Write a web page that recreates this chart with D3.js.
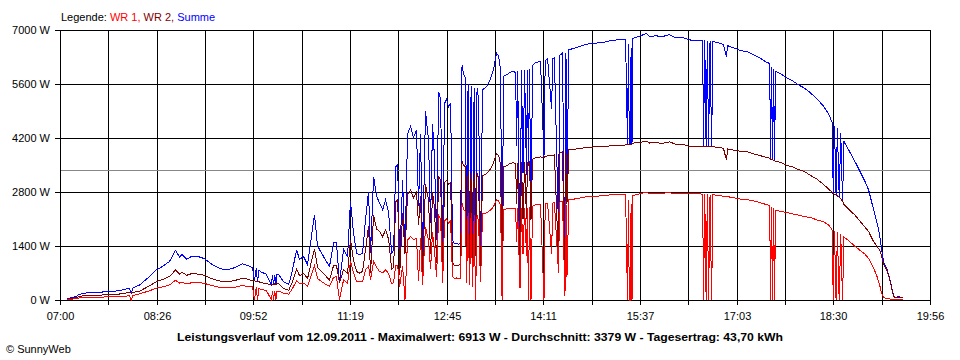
<!DOCTYPE html>
<html><head><meta charset="utf-8">
<script src="https://cdn.jsdelivr.net/npm/d3@7"></script>
<style>
html,body{margin:0;padding:0;background:#fff;}
svg{display:block;font-family:"Liberation Sans",Arial,sans-serif;}
</style></head><body>
<svg id="chart" width="960" height="360"></svg>
<script>
// minutes after 07:00
const times = [
6,14.5,17.4,24.5,35,43,53,62,63.5,65,
71,80,86,91.5,97.7,103,106.6,109,113,118,
124.4,129,133.5,138.7,144,150,156.5,162.8,167,171.7,
173.5,175,176.2,177.5,179.7,184,188.6,189.5,190.5,191.5,
192.5,193.5,194.9,199.4,204,207.4,211,213.7,217.2,220.8,
224.3,227,229.7,233.2,236.8,240.4,244,246.6,249.3,252.9,
256.5,259.1,261.8,264.5,267.1,269.9,272.5,275.2,277,279.7,
282.4,285,287.8,290.4,293.1,295.8,297.6,299.4,301.2,303,
305.6,307.7,310,312.7,315.3,318,319.8,321.6,323.4,326,
328.7,330.5,332.3,334,335.9,337.7,339.5,341.3,343,344.8,
346.6,348.4,350.1,351.9,353.7,355.5,357.3,358.6,359.9,361.7,
362.6,364,365.3,366.7,368,369.4,370.7,372,373.3,375.1,
376.9,380.4,384,386.7,389.4,391.2,393,394.3,395.6,398.3,
401,403.7,406.4,407.3,408.2,410.3,411.6,413,414.4,416.1,
416.9,417.8,418.8,420.1,421.5,423.3,428.6,431.7,432.8,434.9,
438.5,439.5,441,444.7,445.6,448.2,450.4,451.3,452.2,453.9,
459.3,463.4,469.6,476.7,483.9,491.9,499,504.5,505.3,506.2,
507,507.8,508.6,509.4,510.2,511,512.4,517.8,522.9,525.8,
531.2,537.4,543.7,549,555.3,560.7,566,571.3,573.2,574,
575.1,576.3,577.4,578.5,579.8,581.2,582.4,587.4,591.8,594.5,
595.4,597.2,602.6,607.9,613.3,618.6,624,629.3,633,633.8,
634.7,635.6,636.5,637.4,638.2,642.7,648,653.4,658.7,664.1,
669.4,674.8,680.1,685.5,689.1,689.6,690.8,692.2,693.4,695,
696.4,698,699.2,700.7,704.2,708.7,713.1,717.6,721.2,724.8,
728.3,731,732.8,734.6,737.3,739.1,740.9,742.7,744.5,749,
751.7
];
// WR 1 (W)
const wr1 = [
10,35,55,70,75,80,85,110,0,115,
160,240,310,340,390,510,440,460,420,450,
450,430,390,350,320,310,335,375,355,340,
0,330,0,300,270,250,0,240,0,235,
0,230,230,175,150,300,500,420,440,360,
650,880,560,480,410,350,590,600,0,520,
440,1000,700,480,470,480,780,880,520,1000,
850,740,700,780,690,420,450,900,900,350,
870,0,1550,1650,1560,1600,500,1600,400,1900,
1550,800,1750,1300,600,2200,2100,450,2050,2100,
2000,2050,600,560,570,550,560,2500,2350,2300,
450,2250,400,2250,350,2200,0,2200,2050,480,
2230,2260,2330,2420,2600,2580,2440,0,2350,2360,
2360,2370,2360,1500,2380,300,2380,1200,2390,1150,
2390,0,2400,0,2430,2460,2480,0,2490,2510,
1200,2515,2520,700,2540,2560,100,2560,600,2600,
2620,2640,2680,2690,2700,2730,2740,2740,1400,0,
2600,0,0,2500,0,2720,2720,2760,2790,2760,
2770,2770,2780,2760,2770,2760,2750,2750,2740,0,
2740,0,2740,0,2730,0,2730,2710,2690,2690,
2680,2670,2640,2610,2600,2570,2530,2480,2450,0,
2400,0,2380,0,2330,2300,2270,2230,2200,2160,
2140,2080,2040,1950,1800,0,1780,0,1750,0,
1700,0,1640,1600,1520,1400,1300,1200,1080,880,
650,400,180,60,40,30,25,20,20,20,
15
];
// WR 2 (W)
const wr2 = [
15,60,95,120,125,140,155,195,180,195,
230,370,475,530,610,775,675,720,640,690,
665,640,575,520,485,475,510,565,545,495,
495,490,470,470,450,420,400,410,400,420,
400,430,430,300,250,480,800,630,690,555,
1000,1330,840,740,630,520,890,900,440,790,
690,1560,1040,740,700,740,1300,1930,700,2200,
1840,1780,1640,1820,1570,800,850,2550,2600,650,
2250,1200,2750,2850,2650,2800,1950,2700,730,3000,
2600,1200,2800,2400,950,3200,3100,770,3050,3100,
3000,3050,960,900,900,900,920,3600,3500,3450,
750,3350,800,3300,700,3300,1150,3300,3150,780,
3220,3270,3400,3560,3800,3750,3520,530,3450,3480,
3530,3560,3540,2480,3560,660,3570,2090,3580,2100,
3580,3500,3600,2080,3650,3680,3710,3700,3720,3740,
3740,3750,3760,1040,3800,3840,250,3850,2500,3890,
3910,3930,3950,3970,3970,4000,4010,4020,4020,4030,
4030,4030,4030,4040,4040,4060,4080,4090,4120,4070,
4080,4060,4100,4040,4040,3990,3970,3990,3990,3990,
3990,3990,3980,3980,3980,3970,3970,3960,3930,3620,
3920,3900,3880,3850,3840,3790,3750,3700,3680,3650,
3640,3630,3620,3610,3600,3570,3490,3450,3380,3330,
3230,3140,3020,2880,2780,2760,2740,2720,2700,2660,
2620,2560,2480,2430,2330,2210,2060,1900,1780,1560,
1410,1300,1150,920,790,620,440,170,55,60,
55
];
const yTicks = [0,1400,2800,4200,5600,7000];
const xTickLabels = ["07:00","08:26","09:52","11:19","12:45","14:11","15:37","17:03","18:30","19:56"];
const dayMinutes = 776;      // 07:00 -> 19:56
const xDivisions = 18;
const averageW = 3379;
const legendLabels = ["WR 1,","WR 2,","Summe"];
const titleText = "Leistungsverlauf vom 12.09.2011 - Maximalwert: 6913 W - Durchschnitt: 3379 W - Tagesertrag: 43,70 kWh";
const creditText = "\u00A9 SunnyWeb";

const colWR1 = "#ff0000", colWR2 = "#800000", colSum = "#0000ff";
const n = Math.min(times.length, wr1.length, wr2.length);
const rows = d3.range(n).map(i => ({t: times[i], a: wr1[i], b: wr2[i], s: wr1[i] + wr2[i]}));

const svg = d3.select("#chart");
svg.append("rect").attr("width", 960).attr("height", 360).attr("fill", "#fff");

const x = d3.scaleLinear().domain([0, dayMinutes]).range([60, 930]);
const xr = x.copy().interpolate(d3.interpolateRound);
const y = d3.scaleLinear().domain([0, 7000]).range([300, 30]);
const xTickVals = d3.range(xDivisions + 1).map(i => i * dayMinutes / xDivisions);

// grid
const gx = svg.append("g").attr("transform", "translate(0,30)")
  .call(d3.axisBottom(xr).tickValues(xTickVals).tickSize(270).tickFormat(""));
const gy = svg.append("g").attr("transform", "translate(60,0)")
  .call(d3.axisLeft(y).tickValues(yTicks).tickSize(-871).tickFormat(""));
[gx, gy].forEach(g => {
  g.select(".domain").remove();
  g.selectAll("line").attr("stroke", "#000").attr("shape-rendering", "crispEdges");
});

// average line
const ay = Math.round(y(averageW)) + 0.5;
svg.append("line").attr("x1", 61).attr("x2", 930).attr("y1", ay).attr("y2", ay)
  .attr("stroke", "#888").attr("shape-rendering", "crispEdges");

// series
const mk = key => d3.line().x(d => x(d.t)).y(d => y(d[key]));
[["s", colSum], ["b", colWR2], ["a", colWR1]].forEach(([k, c]) => {
  svg.append("path").datum(rows).attr("d", mk(k)).attr("fill", "none")
    .attr("stroke", c).attr("stroke-width", 1).attr("shape-rendering", "crispEdges");
});

// axes with labels
const ax = svg.append("g").attr("transform", "translate(0,300)")
  .call(d3.axisBottom(xr).tickValues(xTickVals).tickSize(5).tickPadding(7)
    .tickFormat((d, i) => i % 2 === 0 ? xTickLabels[i / 2] : ""));
const ayx = svg.append("g").attr("transform", "translate(60,0)")
  .call(d3.axisLeft(y).tickValues(yTicks).tickSize(5).tickPadding(5)
    .tickFormat(d => d + " W"));
[ax, ayx].forEach(g => {
  g.select(".domain").remove();
  g.attr("font-family", null).attr("font-size", null);
  g.selectAll("line").attr("stroke", "#000").attr("shape-rendering", "crispEdges");
  g.selectAll("text").attr("fill", "#000").style("font-size", "11px")
    .style("font-family", '"Liberation Sans", Arial, sans-serif');
});

// legend
const lg = svg.append("text").attr("x", 61).attr("y", 20.5).style("font-size", "11px");
lg.append("tspan").attr("fill", "#000").text("Legende: ");
lg.append("tspan").attr("fill", colWR1).text(legendLabels[0] + " ");
lg.append("tspan").attr("fill", colWR2).text(legendLabels[1] + " ");
lg.append("tspan").attr("fill", colSum).text(legendLabels[2]);

// title
svg.append("text").attr("x", 480).attr("y", 341).attr("text-anchor", "middle")
  .style("font-size", "11px").style("font-weight", "bold")
  .attr("textLength", 606).attr("lengthAdjust", "spacingAndGlyphs")
  .text(titleText);

// credit
svg.append("text").attr("x", 6).attr("y", 353).style("font-size", "11px").text(creditText);
</script>
</body></html>
